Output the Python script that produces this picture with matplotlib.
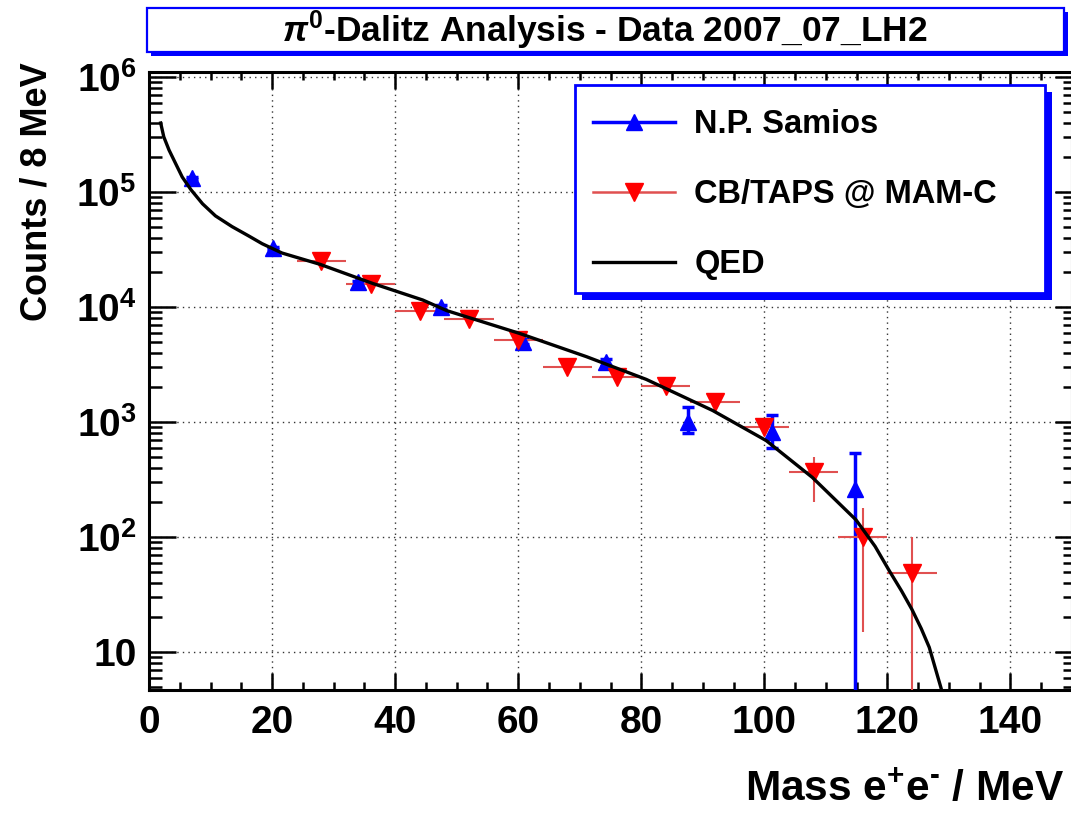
import math
import matplotlib
matplotlib.use('Agg')
import matplotlib.pyplot as plt
from matplotlib.patches import Rectangle
from matplotlib.lines import Line2D
from matplotlib.ticker import LogLocator, MultipleLocator, FuncFormatter, NullFormatter

plt.rcParams['font.family'] = ['Liberation Sans', 'DejaVu Sans']
plt.rcParams['font.weight'] = 'bold'
plt.rcParams['mathtext.fontset'] = 'custom'
plt.rcParams['mathtext.rm'] = 'Liberation Sans:bold'
plt.rcParams['mathtext.bf'] = 'Liberation Sans:bold'
plt.rcParams['mathtext.it'] = 'Liberation Sans:bold:italic'

# N.P. Samios data
samios_x = [7.0, 20.2, 33.9, 47.5, 60.8, 74.3, 87.6, 101.2, 114.7]
samios_y = [1.32e5, 3.25e4, 1.65e4, 1.0e4, 5.0e3, 3.3e3, 1.0e3, 8.2e2, 2.6e2]
samios_err_lo = [3000, 800, 500, 400, 250, 200, 205, 220, 259]
samios_err_hi = [3000, 800, 500, 400, 250, 200, 350, 330, 280]

# CB/TAPS @ MAM-C data (8 MeV bins)
cb_x = [28, 36, 44, 52, 60, 68, 76, 84, 92, 100, 108, 116, 124]
cb_y = [2.5e4, 1.6e4, 9.3e3, 7.9e3, 5.2e3, 3.0e3, 2.45e3, 2.05e3, 1.5e3, 9.0e2, 370, 100, 49]
cb_err_lo = [1500, 1000, 600, 500, 350, 200, 180, 300, 150, 120, 170, 85, 48]
cb_err_hi = [1500, 1000, 600, 500, 350, 200, 180, 250, 150, 120, 130, 78, 51]
cb_xerr = [4] * len(cb_x)

# QED curve
qed_x = [1.9, 2.4, 3.25, 4.3, 5.4, 6.8, 8.7, 10.8, 13.5, 16.2, 18.4, 21.6, 27.8,
         36.4, 44.5, 48.4, 60.2, 71.1, 80.8, 91.6, 100.3, 107.8, 114.9, 118.0,
         120.3, 122.3, 124.0, 125.5, 126.8, 128.7]
qed_y = [3.98e5, 3.02e5, 2.32e5, 1.78e5, 1.35e5, 1.05e5, 7.9e4, 6.2e4, 5.0e4, 4.15e4,
         3.55e4, 2.95e4, 2.35e4, 1.6e4, 1.15e4, 9.3e3, 5.9e3, 3.7e3, 2.35e3, 1.26e3,
         690, 330, 141, 83, 51, 34, 23.4, 16, 11, 4.9]

W, H = 1071, 813
fig = plt.figure(figsize=(W / 100, H / 100), dpi=100)
ax = fig.add_axes([149 / W, 1 - 690 / H, 923 / W, 618 / H])

blue = '#0000ff'
red = '#ff0000'
red_bar = '#e05050'

ax.errorbar(samios_x, samios_y, yerr=[samios_err_lo, samios_err_hi], fmt='^',
            color=blue, ms=11, elinewidth=2.5, capsize=4, capthick=2.5, zorder=3)
ax.errorbar(cb_x, cb_y, xerr=cb_xerr, yerr=[cb_err_lo, cb_err_hi], fmt='v',
            mfc=red, mec=red, ecolor=red_bar, ms=13, elinewidth=1.5, capsize=0, zorder=3)
ax.plot(qed_x, qed_y, color='black', lw=2.4, zorder=4)

ax.set_yscale('log')
ax.set_xlim(0, 150)
ax.set_ylim(4.68, 1.105e6)


def ylab(v, pos):
    e = int(round(math.log10(v)))
    if e == 1:
        return '10'
    return r'$10^{%d}$' % e


ax.xaxis.set_major_locator(MultipleLocator(20))
ax.xaxis.set_minor_locator(MultipleLocator(5))
ax.yaxis.set_major_locator(LogLocator(base=10, numticks=10))
ax.yaxis.set_minor_locator(LogLocator(base=10, subs=range(2, 10), numticks=20))
ax.yaxis.set_major_formatter(FuncFormatter(ylab))
ax.yaxis.set_minor_formatter(NullFormatter())
ax.xaxis.set_major_formatter(FuncFormatter(lambda v, p: '%d' % v))

ax.tick_params(which='both', direction='in', width=1.8, labelsize=28)
ax.tick_params(axis='x', which='major', length=12.5, pad=11)
ax.tick_params(axis='x', which='minor', length=6)
ax.tick_params(axis='y', which='major', length=19.5, pad=9)
ax.tick_params(axis='y', which='minor', length=9.5)
for s in ax.spines.values():
    s.set_linewidth(2.2)

ax.grid(True, which='major', color='0.2', linestyle=(0, (1, 3)), lw=1.0)

# ticks on top and right (shorter, no labels)
axt = ax.twiny()
axt.set_xlim(ax.get_xlim())
axt.xaxis.set_major_locator(MultipleLocator(20))
axt.xaxis.set_minor_locator(MultipleLocator(5))
axt.tick_params(which='both', direction='in', width=1.8, labeltop=False)
axt.tick_params(which='major', length=12.5)
axt.tick_params(which='minor', length=6)
axr = ax.twinx()
axr.set_yscale('log')
axr.set_ylim(ax.get_ylim())
axr.yaxis.set_major_locator(LogLocator(base=10, numticks=10))
axr.yaxis.set_minor_locator(LogLocator(base=10, subs=range(2, 10), numticks=20))
axr.tick_params(which='both', direction='in', width=1.8, labelright=False)
axr.tick_params(which='major', length=12.5)
axr.tick_params(which='minor', length=6.5)
for a in (axt, axr):
    for s in a.spines.values():
        s.set_visible(False)

# axis titles
fig.text(37 / W, 1 - 62 / H, 'Counts / 8 MeV', rotation=90, ha='center', va='top',
         fontsize=26)
fig.text(1064 / W, 1 - 790 / H, r'Mass e$^{+}$e$^{\text{-}}$ / MeV', ha='right', va='center',
         fontsize=30.5)

# title box with shadow
fig.patches.append(Rectangle((151 / W, 1 - 56 / H), 917 / W, 44 / H, transform=fig.transFigure,
                             facecolor=blue, edgecolor='none', zorder=3))
fig.patches.append(Rectangle((147 / W, 1 - 52 / H), 917 / W, 44 / H, transform=fig.transFigure,
                             facecolor='white', edgecolor=blue, lw=1.6, zorder=4))
fig.text(605 / W, 1 - 30 / H, r'$\pi^{0}$-Dalitz Analysis - Data 2007_07_LH2', ha='center',
         va='center', fontsize=25.5, zorder=6)

# legend box with shadow
fig.patches.append(Rectangle((582 / W, 1 - 300 / H), 470 / W, 208 / H, transform=fig.transFigure,
                             facecolor=blue, edgecolor='none', zorder=3))
fig.patches.append(Rectangle((575 / W, 1 - 293 / H), 470 / W, 208 / H, transform=fig.transFigure,
                             facecolor='white', edgecolor=blue, lw=2.0, zorder=4))
handles = [
    Line2D([], [], color=blue, lw=2.5, marker='^', ms=11, mfc=blue, mec=blue),
    Line2D([], [], color=red_bar, lw=1.8, marker='v', ms=13, mfc=red, mec=red),
    Line2D([], [], color='black', lw=2.4),
]
labels = ['N.P. Samios', 'CB/TAPS @ MAM-C', 'QED']
fig.legend(handles, labels, loc='upper left', bbox_to_anchor=(593 / W, 1 - 109 / H),
           frameon=False, fontsize=23.5, borderpad=0, borderaxespad=0, handlelength=2.5,
           handletextpad=0.6, labelspacing=1.2)

fig.savefig('out.png', dpi=100)
